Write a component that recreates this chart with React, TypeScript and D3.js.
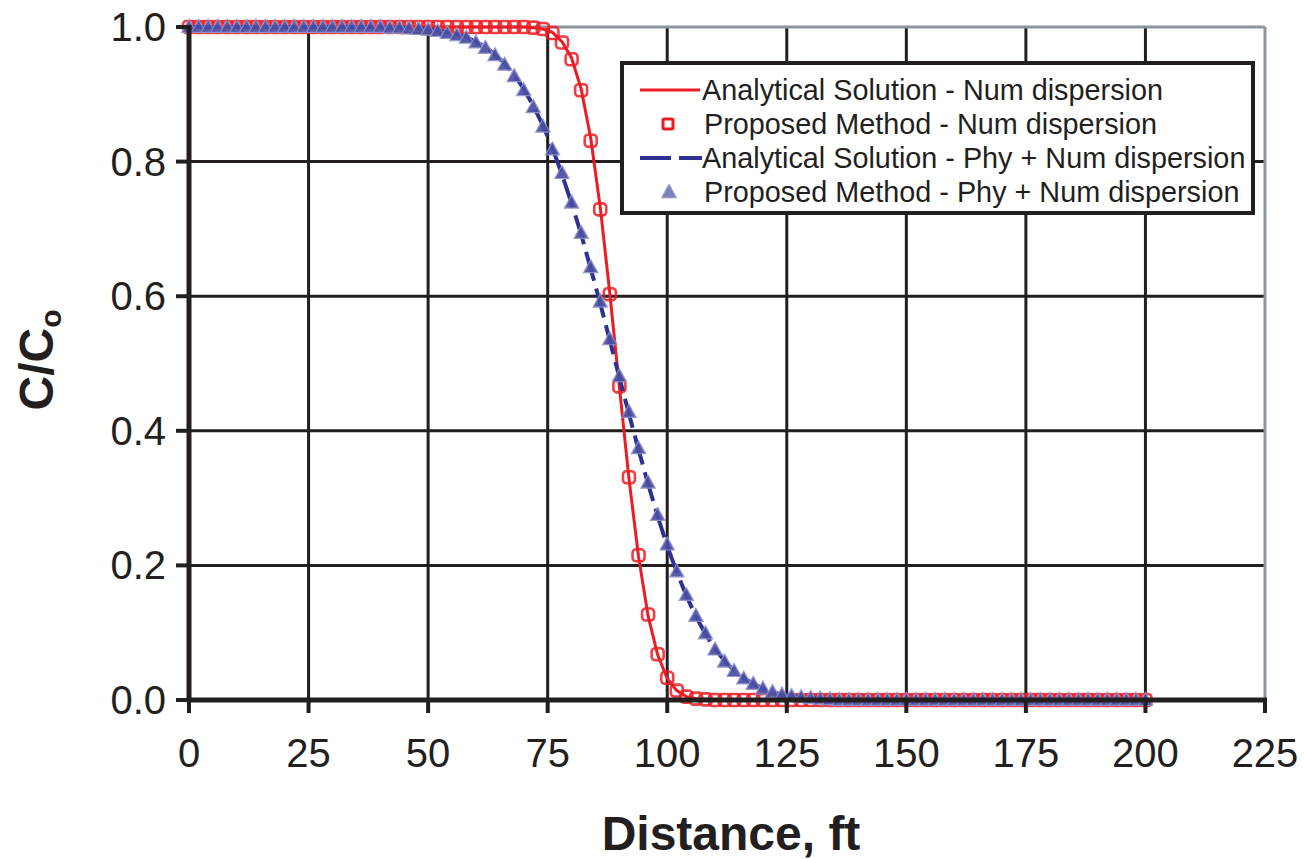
import React from "react";
import * as d3 from "d3";

const distanceFt = [
  0, 2, 4, 6, 8, 10, 12, 14, 16, 18, 20, 22, 24, 26, 28, 30, 32, 34, 36, 38,
  40, 42, 44, 46, 48, 50, 52, 54, 56, 58, 60, 62, 64, 66, 68, 70, 72, 74, 76, 78,
  80, 82, 84, 86, 88, 90, 92, 94, 96, 98, 100, 102, 104, 106, 108, 110, 112, 114, 116, 118,
  120, 122, 124, 126, 128, 130, 132, 134, 136, 138, 140, 142, 144, 146, 148, 150, 152, 154, 156, 158,
  160, 162, 164, 166, 168, 170, 172, 174, 176, 178, 180, 182, 184, 186, 188, 190, 192, 194, 196, 198,
  200,
];

// Analytical Solution - Num dispersion
const analyticalNum = [
  1, 1, 1, 1, 1, 1, 1, 1, 1, 1, 1, 1, 1, 1, 1, 1, 1, 1, 1, 1,
  1, 1, 1, 1, 1, 1, 1, 1, 1, 1, 1, 1, 1, 1, 1, 1, 0.999, 0.997, 0.992, 0.978,
  0.954, 0.908, 0.835, 0.732, 0.604, 0.465, 0.329, 0.213, 0.125, 0.067, 0.032, 0.014, 0.005, 0.002, 0.001, 0, 0, 0, 0, 0,
  0, 0, 0, 0, 0, 0, 0, 0, 0, 0, 0, 0, 0, 0, 0, 0, 0, 0, 0, 0,
  0, 0, 0, 0, 0, 0, 0, 0, 0, 0, 0, 0, 0, 0, 0, 0, 0, 0, 0, 0,
  0,
];

// Proposed Method - Num dispersion
const proposedNum = [
  1, 1, 1, 1, 1, 1, 1, 1, 1, 1, 1, 1, 1, 1, 1, 1, 1, 1, 1, 1,
  1, 1, 1, 1, 1, 1, 1, 1, 1, 1, 1, 1, 1, 1, 1, 1, 0.999, 0.997, 0.991, 0.977,
  0.952, 0.906, 0.831, 0.729, 0.603, 0.466, 0.331, 0.215, 0.127, 0.068, 0.033, 0.014, 0.005, 0.002, 0.001, 0, 0, 0, 0, 0,
  0, 0, 0, 0, 0, 0, 0, 0, 0, 0, 0, 0, 0, 0, 0, 0, 0, 0, 0, 0,
  0, 0, 0, 0, 0, 0, 0, 0, 0, 0, 0, 0, 0, 0, 0, 0, 0, 0, 0, 0,
  0,
];

// Analytical Solution - Phy + Num dispersion
const analyticalPhy = [
  1, 1, 1, 1, 1, 1, 1, 1, 1, 1, 1, 1, 1, 1, 1, 1, 1, 1, 1, 1,
  1, 0.999, 0.999, 0.999, 0.998, 0.997, 0.995, 0.992, 0.989, 0.985, 0.978, 0.97, 0.959, 0.946, 0.929, 0.908, 0.883, 0.854, 0.82, 0.781,
  0.738, 0.692, 0.641, 0.589, 0.534, 0.479, 0.425, 0.372, 0.321, 0.273, 0.229, 0.19, 0.155, 0.124, 0.098, 0.076, 0.058, 0.044, 0.033, 0.024,
  0.017, 0.012, 0.008, 0.006, 0.004, 0.003, 0.002, 0.001, 0, 0, 0, 0, 0, 0, 0, 0, 0, 0, 0, 0,
  0, 0, 0, 0, 0, 0, 0, 0, 0, 0, 0, 0, 0, 0, 0, 0, 0, 0, 0, 0,
  0,
];

// Proposed Method - Phy + Num dispersion
const proposedPhy = [
  1, 1, 1, 1, 1, 1, 1, 1, 1, 1, 1, 1, 1, 1, 1, 1, 1, 1, 1, 1,
  1, 0.999, 0.999, 0.998, 0.997, 0.996, 0.994, 0.991, 0.988, 0.984, 0.977, 0.969, 0.958, 0.944, 0.927, 0.906, 0.881, 0.852, 0.818, 0.783,
  0.739, 0.694, 0.643, 0.592, 0.536, 0.481, 0.428, 0.374, 0.323, 0.275, 0.231, 0.191, 0.156, 0.125, 0.099, 0.075, 0.057, 0.043, 0.032, 0.024,
  0.017, 0.012, 0.008, 0.006, 0.004, 0.003, 0.002, 0.001, 0, 0, 0, 0, 0, 0, 0, 0, 0, 0, 0, 0,
  0, 0, 0, 0, 0, 0, 0, 0, 0, 0, 0, 0, 0, 0, 0, 0, 0, 0, 0, 0,
  0,
];

const xTicks = [0, 25, 50, 75, 100, 125, 150, 175, 200, 225];
const yTicks = [0, 0.2, 0.4, 0.6, 0.8, 1.0];
const legendLabels = [
  "Analytical Solution - Num dispersion",
  "Proposed Method - Num dispersion",
  "Analytical Solution - Phy + Num dispersion",
  "Proposed Method - Phy + Num dispersion",
];

const RED = "#ED1C24";
const BLUE = "#2E3192";
const TRI = "#4A4EA3";
const INK = "#231F20";
const BORDER = "#8C969B";
const FONT = "'Liberation Sans', Arial, Helvetica, sans-serif";

export default function App() {
  const W = 1304;
  const H = 859;
  const x = d3.scaleLinear().domain([0, 225]).range([189, 1265]);
  const y = d3.scaleLinear().domain([0, 1]).range([700, 27]);
  const [x0, x1] = x.range();
  const [yb, yt] = y.range();

  const lineGen = d3
    .line<number>()
    .x((_, i) => x(distanceFt[i]))
    .y((d) => y(d));

  const tri = (cx: number, cy: number, s: number) =>
    `M${cx},${cy - s * 0.58} L${cx + s * 0.55},${cy + s * 0.42} L${cx - s * 0.55},${cy + s * 0.42} Z`;

  const legendX = 622;
  const legendY = 63;
  const legendW = 631;
  const legendH = 150;
  const rowY = [90, 124, 158, 192];

  return (
    <svg
      width={W}
      height={H}
      viewBox={`0 0 ${W} ${H}`}
      style={{ position: "absolute", left: 0, top: 0, background: "#fff" }}
    >
      <rect x={0} y={0} width={W} height={H} fill="#fff" />

      {/* grid */}
      {xTicks
        .filter((t) => t > 0 && t < 225)
        .map((t) => (
          <line key={"gx" + t} x1={x(t)} x2={x(t)} y1={yt} y2={yb} stroke={INK} strokeWidth={3} />
        ))}
      {yTicks
        .filter((t) => t > 0 && t < 1)
        .map((t) => (
          <line key={"gy" + t} x1={x0} x2={x1} y1={y(t)} y2={y(t)} stroke={INK} strokeWidth={3} />
        ))}
      {/* top/right border */}
      <line x1={x0} x2={x1} y1={yt} y2={yt} stroke={BORDER} strokeWidth={3} />
      <line x1={x1} x2={x1} y1={yt} y2={yb} stroke={BORDER} strokeWidth={3} />

      {/* series: Num dispersion */}
      <path d={lineGen(analyticalNum) || ""} fill="none" stroke={RED} strokeWidth={3} />
      {proposedNum.map((v, i) => (
        <rect
          key={"rm" + i}
          x={x(distanceFt[i]) - 6}
          y={y(v) - 6}
          width={12}
          height={12}
          rx={3.5}
          fill="none"
          stroke={RED}
          strokeWidth={2.6}
          opacity={0.85}
        />
      ))}

      {/* series: Phy + Num dispersion */}
      <path
        d={lineGen(analyticalPhy) || ""}
        fill="none"
        stroke={BLUE}
        strokeWidth={4}
        strokeDasharray="30 8"
      />
      {proposedPhy.map((v, i) => (
        <path
          key={"bt" + i}
          d={tri(x(distanceFt[i]), y(v), 13)}
          fill={TRI}
          stroke="#8E91C8"
          strokeWidth={1.2}
          opacity={0.92}
        />
      ))}

      {/* axes */}
      <line x1={x0} x2={x0} y1={yt - 2} y2={yb + 2} stroke={INK} strokeWidth={5} />
      <line x1={x0 - 2} x2={x1 + 2} y1={yb} y2={yb} stroke={INK} strokeWidth={5} />
      {xTicks.map((t) => (
        <g key={"xt" + t}>
          <line x1={x(t)} x2={x(t)} y1={yb} y2={yb + 13} stroke={INK} strokeWidth={4} />
          <text
            x={x(t)}
            y={767}
            textAnchor="middle"
            fontFamily={FONT}
            fontSize={40}
            fill={INK}
          >
            {t}
          </text>
        </g>
      ))}
      {yTicks.map((t) => (
        <g key={"yt" + t}>
          <line x1={x0 - 13} x2={x0} y1={y(t)} y2={y(t)} stroke={INK} strokeWidth={4} />
          <text
            x={166}
            y={y(t) + 14}
            textAnchor="end"
            fontFamily={FONT}
            fontSize={40}
            fill={INK}
          >
            {t.toFixed(1)}
          </text>
        </g>
      ))}

      {/* axis titles */}
      <text
        x={731}
        y={850}
        textAnchor="middle"
        fontFamily={FONT}
        fontSize={48}
        fontWeight="bold"
        fill={INK}
      >
        Distance, ft
      </text>
      <text
        transform="translate(53,360) rotate(-90)"
        textAnchor="middle"
        fontFamily={FONT}
        fontSize={48}
        fontWeight="bold"
        fill={INK}
      >
        C/C
        <tspan fontSize={30} dy={8}>
          o
        </tspan>
      </text>

      {/* legend */}
      <rect
        x={legendX}
        y={legendY}
        width={legendW}
        height={legendH}
        fill="#fff"
        stroke={INK}
        strokeWidth={4}
      />
      <line x1={640} x2={700} y1={rowY[0]} y2={rowY[0]} stroke={RED} strokeWidth={3} />
      <rect
        x={663}
        y={rowY[1] - 5}
        width={10}
        height={10}
        rx={1.5}
        fill="none"
        stroke={RED}
        strokeWidth={3}
      />
      <line
        x1={640}
        x2={702}
        y1={rowY[2]}
        y2={rowY[2]}
        stroke={BLUE}
        strokeWidth={4}
        strokeDasharray="31 8"
      />
      <path d={tri(669, rowY[3], 14)} fill="#7F82BF" stroke="#A9ABD6" strokeWidth={1} />
      {legendLabels.map((s, i) => (
        <text
          key={"lg" + i}
          x={i % 2 === 0 ? 702 : 704}
          y={rowY[i] + 10}
          fontFamily={FONT}
          fontSize={28.8}
          fill={INK}
        >
          {s}
        </text>
      ))}
    </svg>
  );
}
